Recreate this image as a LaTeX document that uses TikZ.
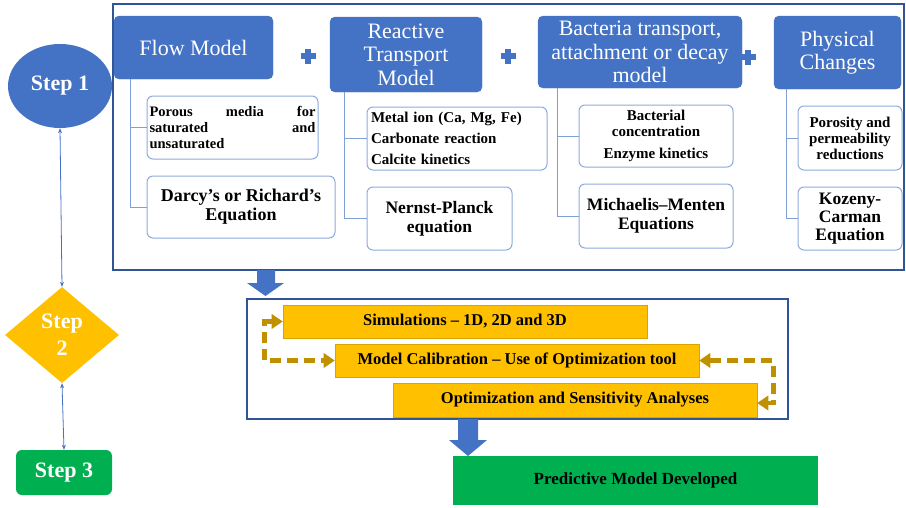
\documentclass[tikz,border=0pt]{standalone}
\usepackage{fontspec}
\setmainfont{Liberation Serif}
\usetikzlibrary{shapes.geometric,arrows.meta}
\definecolor{hblue}{HTML}{4472C4}
\definecolor{dblue}{HTML}{2F5597}
\definecolor{lblue}{HTML}{8FAADC}
\definecolor{tblue}{HTML}{7F9FD5}
\definecolor{gold}{HTML}{FFC000}
\definecolor{dgold}{HTML}{BF9000}
\definecolor{sgreen}{HTML}{00B050}
\begin{document}
\begin{tikzpicture}[x=1pt,y=-1pt,
  header/.style={fill=hblue, draw=hblue, rounded corners=5pt, text=white, align=center, inner sep=0pt, font=\fontsize{22}{23.5}\selectfont},
  subbox/.style={draw=lblue, line width=1pt, fill=white, rounded corners=6pt, align=center, inner sep=2pt, font=\bfseries\fontsize{17.5}{19}\selectfont},
  smallbox/.style={subbox, font=\bfseries\fontsize{15}{16}\selectfont},
  tree/.style={draw=tblue, line width=1pt},
  framebox/.style={draw=dblue, line width=1.5pt},
  bar/.style={fill=gold, draw=gold!85!black, line width=0.6pt, inner sep=0pt, minimum width=364pt, font=\bfseries\fontsize{16.5}{18}\selectfont},
  stepline/.style={draw=hblue, line width=0.8pt, {Stealth[length=5pt,width=4pt]}-{Stealth[length=5pt,width=4pt]}},
  goldloop/.style={draw=dgold, line width=4.5pt, dash pattern=on 11pt off 6pt, {Triangle[length=11pt,width=15pt,line width=0pt]}-{Triangle[length=11pt,width=15pt,line width=0pt]}},
  plussign/.style={draw=hblue, line width=5.5pt},
  blockarrow/.style={fill=hblue, draw=none}
]
\useasboundingbox (0,0) rectangle (906,507);

% outer frame
\draw[framebox] (113,4) rectangle (904,270);

% headers
\node[header, minimum width=159pt, minimum height=63pt] (fh) at (193.5,47.5) {Flow Model};
\node[header, minimum width=152pt, minimum height=75pt] (rh) at (406,54.5) {Reactive\\Transport\\Model};
\node[header, minimum width=204pt, minimum height=72pt] (bh) at (640,52) {Bacteria transport,\\attachment or decay\\model};
\node[header, minimum width=127pt, minimum height=73pt] (ph) at (837.5,52.5) {Physical\\Changes};

% plus signs
\draw[plussign] (300.5,56) -- (315.5,56) (308,48.5) -- (308,63.5);
\draw[plussign] (500.5,56) -- (515.5,56) (508,48.5) -- (508,63.5);
\draw[plussign] (740.5,57) -- (755.5,57) (748,49.5) -- (748,64.5);

% sub boxes
\node[smallbox, minimum width=171pt, minimum height=63pt, text width=166pt, align=left, inner sep=0pt, font=\bfseries\fontsize{14.5}{16}\selectfont] (f1) at (232.5,127.5)
  {Porous\hfill media\hfill for\\saturated\hfill and\\unsaturated};
\node[subbox, minimum width=188pt, minimum height=62pt, font=\bfseries\fontsize{18}{19}\selectfont] (f2) at (241,207) {Darcy’s or Richard’s\\Equation};

\node[smallbox, minimum width=180pt, minimum height=63pt, text width=172pt, align=left, inner xsep=4pt, font=\bfseries\fontsize{15}{21}\selectfont] (r1) at (457,138.5)
  {Metal ion (Ca, Mg, Fe)\\Carbonate reaction\\Calcite kinetics};
\node[subbox, minimum width=145pt, minimum height=63pt] (r2) at (439.5,218.5) {Nernst-Planck\\equation};

\node[smallbox, minimum width=154pt, minimum height=62pt] (b1) at (656,136) {Bacterial\\concentration\\[6pt]Enzyme kinetics};
\node[subbox, minimum width=154pt, minimum height=64pt] (b2) at (656,216) {Michaelis–Menten\\Equations};

\node[smallbox, minimum width=104pt, minimum height=64pt] (p1) at (850,138) {Porosity and\\permeability\\reductions};
\node[subbox, minimum width=104pt, minimum height=63pt, font=\bfseries\fontsize{17.5}{18}\selectfont] (p2) at (850,218.5) {Kozeny-\\Carman\\Equation};

% tree connectors
\draw[tree] ([xshift=17pt]fh.south west) |- (f1.west);
\draw[tree] ([xshift=17pt]fh.south west) |- (f2.west);
\draw[tree] ([xshift=15pt]rh.south west) |- (r1.west);
\draw[tree] ([xshift=15pt]rh.south west) |- (r2.west);
\draw[tree] ([xshift=20pt]bh.south west) |- (b1.west);
\draw[tree] ([xshift=20pt]bh.south west) |- (b2.west);
\draw[tree] ([xshift=13pt]ph.south west) |- (p1.west);
\draw[tree] ([xshift=13pt]ph.south west) |- (p2.west);

% steps
\node[ellipse, fill=hblue, minimum width=104pt, minimum height=84pt, inner sep=0pt, text=white, font=\bfseries\fontsize{22}{24}\selectfont] (s1) at (60,86) {Step 1};
\node[diamond, fill=gold, minimum width=114pt, minimum height=96pt, inner sep=0pt, text=white, align=center, font=\bfseries\fontsize{22}{27}\selectfont] (s2) at (62,335) {Step\\2};
\node[fill=sgreen, rounded corners=6pt, minimum width=96pt, minimum height=45pt, inner sep=0pt, text=white, font=\bfseries\fontsize{22}{24}\selectfont] (s3) at (64,472.5) {Step 3};
\draw[stepline] (s1.south) -- (s2.north);
\draw[stepline] (s2.south) -- (s3.north);

% block arrow 1
\fill[blockarrow] (257,270) -- (275,270) -- (275,283) -- (284,283) -- (265.5,296) -- (247,283) -- (257,283) -- cycle;

% second frame
\draw[framebox] (247,299) rectangle (788,419);
\node[bar, minimum height=33pt] (sim) at (465,321.5) {Simulations – 1D, 2D and 3D};
\node[bar, minimum height=33pt] (cal) at (517,360.5) {Model Calibration – Use of Optimization tool};
\node[bar, minimum height=34pt] (opt) at (575,400) {Optimization and Sensitivity Analyses};
\draw[goldloop] (sim.west) -| ([xshift=-70pt]cal.west) -- (cal.west);
\draw[goldloop] (cal.east) -- ([xshift=74pt]cal.east) |- ([yshift=-3pt]opt.east);

% block arrow 2
\fill[blockarrow] (458,419) -- (478,419) -- (478,440) -- (487,440) -- (468,456) -- (449,440) -- (458,440) -- cycle;

% predictive
\node[fill=sgreen, minimum width=365pt, minimum height=49pt, inner sep=0pt, font=\bfseries\fontsize{17}{19}\selectfont] (pred) at (635.5,480.5) {Predictive Model Developed};
\end{tikzpicture}
\end{document}
